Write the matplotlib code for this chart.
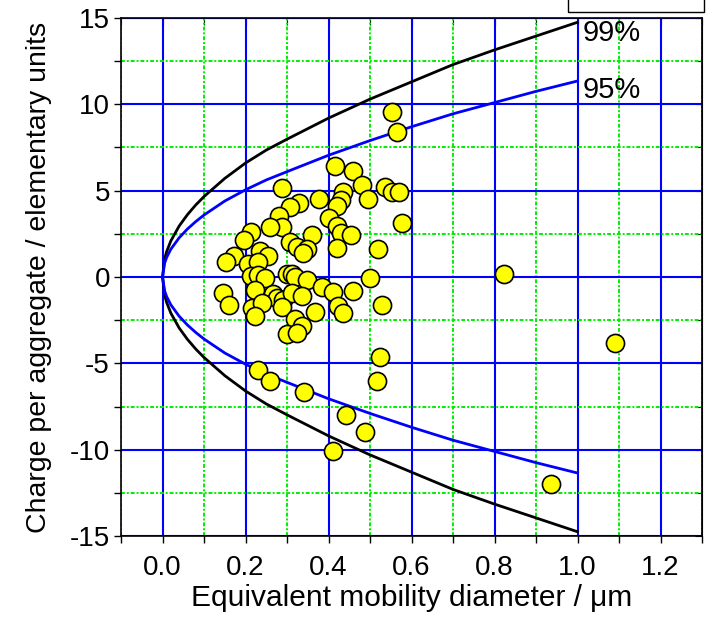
import numpy as np
import matplotlib
matplotlib.use("Agg")
import matplotlib.pyplot as plt
from matplotlib.patches import Rectangle

plt.rcParams['font.family'] = ['Liberation Sans', 'DejaVu Sans']
plt.rcParams['axes.unicode_minus'] = False

# confidence envelopes
d_curve = [0, 0.005, 0.01, 0.02, 0.04, 0.06, 0.08, 0.1, 0.15, 0.2, 0.25, 0.3,
           0.4, 0.5, 0.6, 0.7, 0.8, 0.9, 1.0]
q99 = [0, 1.04, 1.48, 2.09, 2.95, 3.61, 4.17, 4.66, 5.71, 6.60, 7.35, 7.98,
       9.2, 10.3, 11.3, 12.3, 13.15, 13.95, 14.75]
q95 = [0, 0.80, 1.14, 1.61, 2.27, 2.78, 3.21, 3.59, 4.40, 5.05, 5.62, 6.1,
       7.05, 7.9, 8.7, 9.45, 10.1, 10.75, 11.35]

# measured aggregates
d_meas = [0.553, 0.564, 0.415, 0.460, 0.480, 0.535, 0.552, 0.569, 0.436, 0.430,
          0.420, 0.494, 0.376, 0.330, 0.308, 0.287, 0.400, 0.420, 0.576, 0.280,
          0.288, 0.260, 0.430, 0.453, 0.359, 0.212, 0.196, 0.306, 0.325, 0.347,
          0.338, 0.420, 0.518, 0.234, 0.253, 0.173, 0.154, 0.207, 0.229, 0.212,
          0.229, 0.246, 0.300, 0.313, 0.318, 0.347, 0.499, 0.824, 0.384, 0.410,
          0.458, 0.145, 0.161, 0.224, 0.265, 0.277, 0.290, 0.313, 0.335, 0.215,
          0.240, 0.222, 0.289, 0.368, 0.422, 0.434, 0.320, 0.336, 0.299, 0.323,
          0.528, 0.523, 0.231, 0.258, 0.342, 0.516, 0.441, 0.489, 0.410, 0.937,
          1.090]
q_meas = [9.55, 8.4, 6.4, 6.15, 5.3, 5.2, 4.95, 4.9, 4.9, 4.45,
          4.1, 4.5, 4.5, 4.3, 4.05, 5.15, 3.4, 2.95, 3.15, 3.55,
          2.9, 2.9, 2.55, 2.45, 2.45, 2.6, 2.15, 2.0, 1.75, 1.65,
          1.4, 1.7, 1.65, 1.5, 1.2, 1.2, 0.85, 0.75, 0.85, 0.05,
          0.1, -0.05, 0.15, 0.2, 0.0, -0.2, -0.05, 0.17, -0.6, -0.85,
          -0.8, -0.95, -1.6, -0.75, -1.0, -1.2, -1.35, -0.9, -1.1, -1.8,
          -1.5, -2.25, -1.75, -2.0, -1.7, -2.1, -2.45, -2.85, -3.3, -3.25,
          -1.6, -4.65, -5.4, -6.0, -6.65, -6.0, -8.0, -9.0, -10.05, -12.0,
          -3.8]

xticks = [0.0, 0.2, 0.4, 0.6, 0.8, 1.0, 1.2]
yticks = [-15, -10, -5, 0, 5, 10, 15]

fig = plt.figure(figsize=(7.12, 6.19), dpi=100)
ax = fig.add_axes([0.170, 0.134, 0.816, 0.837])

ax.set_xlim(-0.1, 1.3)
ax.set_ylim(-15, 15)
ax.set_xticks(xticks)
ax.set_xticklabels(["%.1f" % t for t in xticks])
ax.set_xticks(np.arange(-0.1, 1.31, 0.1), minor=True)
ax.set_yticks(yticks)
ax.set_yticklabels([str(t) for t in yticks])
ax.set_yticks(np.arange(-15, 15.1, 2.5), minor=True)

ax.grid(which='major', color='#0000ff', lw=1.5, ls='-', zorder=0)
ax.grid(which='minor', color='#00ee00', lw=1.4, ls=(0, (2, 1, 1, 1)), zorder=0)
ax.set_axisbelow(True)

ax.tick_params(which='both', direction='out', length=5, width=1, labelsize=20,
               top=False, right=False)
ax.tick_params(axis='x', pad=9)
ax.tick_params(axis='y', pad=3)
ax2 = ax.secondary_xaxis('top')
ax2.set_xticks(np.arange(-0.1, 1.31, 0.1))
ax2.tick_params(direction='in', length=5, labeltop=False)
ax3 = ax.secondary_yaxis('right')
ax3.set_yticks(np.arange(-15, 15.1, 2.5))
ax3.tick_params(direction='in', length=5, labelright=False)

for s in ax.spines.values():
    s.set_linewidth(1.2)

ax.plot(d_curve, q99, color='black', lw=2.0, zorder=3)
ax.plot(d_curve, [-v for v in q99], color='black', lw=2.0, zorder=3)
ax.plot(d_curve, q95, color='#0000ff', lw=2.0, zorder=3)
ax.plot(d_curve, [-v for v in q95], color='#0000ff', lw=2.0, zorder=3)

ax.scatter(d_meas, q_meas, s=170, c='#ffff00', edgecolors='black',
           linewidths=1.2, zorder=4, clip_on=False)

ax.text(1.012, 14.1, "99%", fontsize=21, va='center', ha='left', zorder=5)
ax.text(1.012, 10.8, "95%", fontsize=21, va='center', ha='left', zorder=5)

ax.set_xlabel("Equivalent mobility diameter / \u03bcm", fontsize=21.5, labelpad=2)
ax.set_ylabel("Charge per aggregate / elementary units", fontsize=20.5, labelpad=13)

fig.patches.append(Rectangle((568 / 712, 1 - 12 / 619), 136 / 712, 0.05,
                             transform=fig.transFigure, fill=False,
                             edgecolor='black', lw=1.0))

fig.savefig("out.png", dpi=100)
